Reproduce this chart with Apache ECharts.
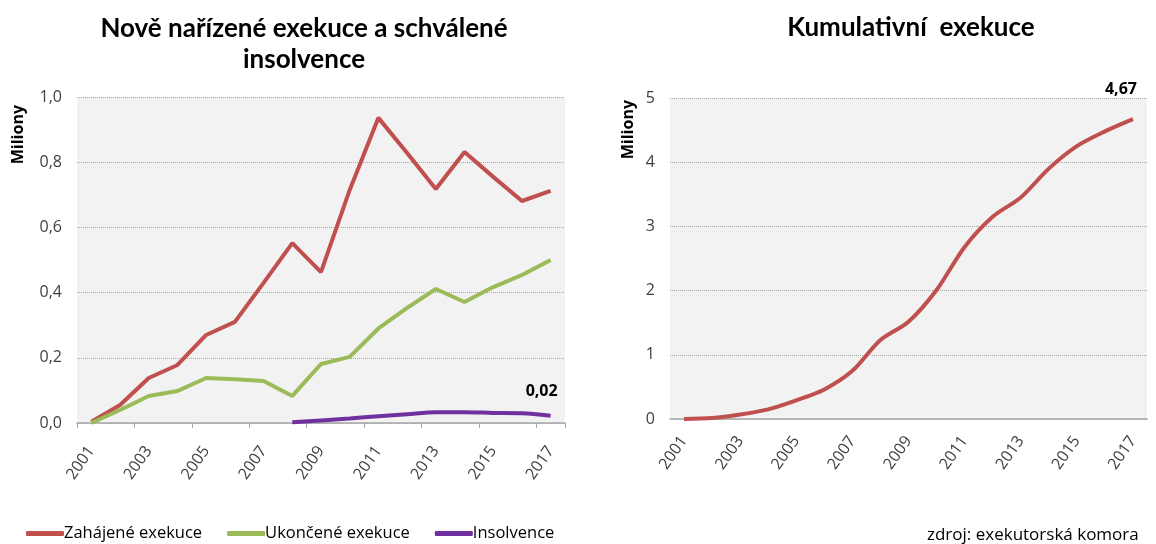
<!DOCTYPE html>
<html><head><meta charset="utf-8">
<script src="https://cdn.jsdelivr.net/npm/echarts@6/dist/echarts.min.js"></script>
<style>html,body{margin:0;padding:0;background:#fff}#c{width:1156px;height:544px}</style>
</head><body><div id="c"></div>
<script>
const years = ['2001','2002','2003','2004','2005','2006','2007','2008','2009','2010','2011','2012','2013','2014','2015','2016','2017'];
const zahajene = [0.004,0.055,0.138,0.178,0.27,0.31,0.43,0.552,0.463,0.715,0.936,0.828,0.718,0.831,0.755,0.681,0.712];
const ukoncene = [0.0,0.04,0.083,0.098,0.138,0.134,0.129,0.083,0.181,0.203,0.29,0.353,0.411,0.371,0.417,0.454,0.5];
const insolvence = [null,null,null,null,null,null,null,0.002,0.008,0.014,0.021,0.027,0.033,0.033,0.031,0.03,0.022];
const kumulativni = [0,0.015,0.07,0.15,0.29,0.46,0.75,1.23,1.515,2.01,2.68,3.15,3.45,3.9,4.25,4.48,4.67];
const leftTicks = [0,0.2,0.4,0.6,0.8,1.0];
const rightTicks = [0,1,2,3,4,5];

const FONT = 'Open Sans';
const TXT = '#404040';
function lastLabel(arr, dist, dx){
  return arr.map((v,i)=> i===arr.length-1 ? {value:v,label:{show:true,position:'top',distance:dist,offset:[dx,0],fontWeight:'bold',fontSize:16,color:'#000',fontFamily:FONT,formatter:p=>p.value.toFixed(2).replace('.',',')}} : v);
}
const chart = echarts.init(document.getElementById('c'));
const xAxisBase = (gi, ticks, margin) => ({
  type:'category', gridIndex:gi, data:years, boundaryGap:true,
  axisLine:{lineStyle:{color:'#a6a6a6',width:1.5}},
  axisTick:{show:ticks,interval:1,length:5,lineStyle:{color:'#a6a6a6'}},
  axisLabel:{interval:1,rotate:55,color:TXT,fontFamily:FONT,fontSize:16,margin:margin}
});
const yAxisBase = (gi, ticks, fmt) => ({
  type:'value', gridIndex:gi, min:ticks[0], max:ticks[ticks.length-1], interval:ticks[1]-ticks[0],
  axisLine:{show:false}, axisTick:{show:false},
  splitLine:{lineStyle:{color:'#a6a6a6',type:'dotted',width:1}},
  axisLabel:{color:TXT,fontFamily:FONT,fontSize:16,margin:15,formatter:fmt}
});
chart.setOption({
  animation:false,
  textStyle:{fontFamily:FONT},
  title:[
    {text:'Nově nařízené exekuce a schválené\ninsolvence',left:299,top:8,textAlign:'center',
     textStyle:{fontFamily:'Lato',fontWeight:'bold',fontSize:26,color:'#000',lineHeight:31}},
    {text:'Kumulativní  exekuce',left:906,top:10,textAlign:'center',
     textStyle:{fontFamily:'Lato',fontWeight:'bold',fontSize:26,color:'#000'}}
  ],
  graphic:[
    {type:'text',left:10,top:105,rotation:Math.PI/2,style:{text:'Miliony',fontFamily:FONT,fontWeight:'bold',fontSize:16,fill:'#000'}},
    {type:'text',left:620,top:100,rotation:Math.PI/2,style:{text:'Miliony',fontFamily:FONT,fontWeight:'bold',fontSize:16,fill:'#000'}},
    {type:'text',left:927,top:527,style:{text:'zdroj: exekutorská komora',fontFamily:FONT,fontSize:17,fill:'#000'}}
  ],
  legend:{data:['Zahájené exekuce','Ukončené exekuce','Insolvence'],left:21,top:520,icon:'roundRect',itemWidth:38,itemHeight:5,itemGap:25,
    textStyle:{fontFamily:FONT,fontSize:16.5,color:'#000',padding:[0,0,0,-5]}},
  grid:[
    {left:77,top:97,width:488,height:326,show:true,backgroundColor:'#f2f2f2',borderWidth:0},
    {left:670,top:98,width:477,height:321,show:true,backgroundColor:'#f2f2f2',borderWidth:0}
  ],
  xAxis:[xAxisBase(0,true,25), xAxisBase(1,false,19)],
  yAxis:[yAxisBase(0,leftTicks,v=>v.toFixed(1).replace('.',',')), yAxisBase(1,rightTicks,v=>String(v))],
  series:[
    {name:'Zahájené exekuce',type:'line',xAxisIndex:0,yAxisIndex:0,data:zahajene,showSymbol:false,symbol:'none',lineStyle:{color:'#c0504d',width:4},itemStyle:{color:'#c0504d'}},
    {name:'Ukončené exekuce',type:'line',xAxisIndex:0,yAxisIndex:0,data:ukoncene,showSymbol:false,symbol:'none',lineStyle:{color:'#9bbb59',width:4},itemStyle:{color:'#9bbb59'}},
    {name:'Insolvence',type:'line',xAxisIndex:0,yAxisIndex:0,data:lastLabel(insolvence,16,-9),smooth:0.3,symbol:'circle',symbolSize:0.1,lineStyle:{color:'#7030a0',width:4},itemStyle:{color:'#7030a0'}},
    {name:'Kumulativní exekuce',type:'line',xAxisIndex:1,yAxisIndex:1,data:lastLabel(kumulativni,22,-12),smooth:0.3,symbol:'circle',symbolSize:0.1,lineStyle:{color:'#c0504d',width:4},itemStyle:{color:'#c0504d'}}
  ]
});
</script></body></html>
